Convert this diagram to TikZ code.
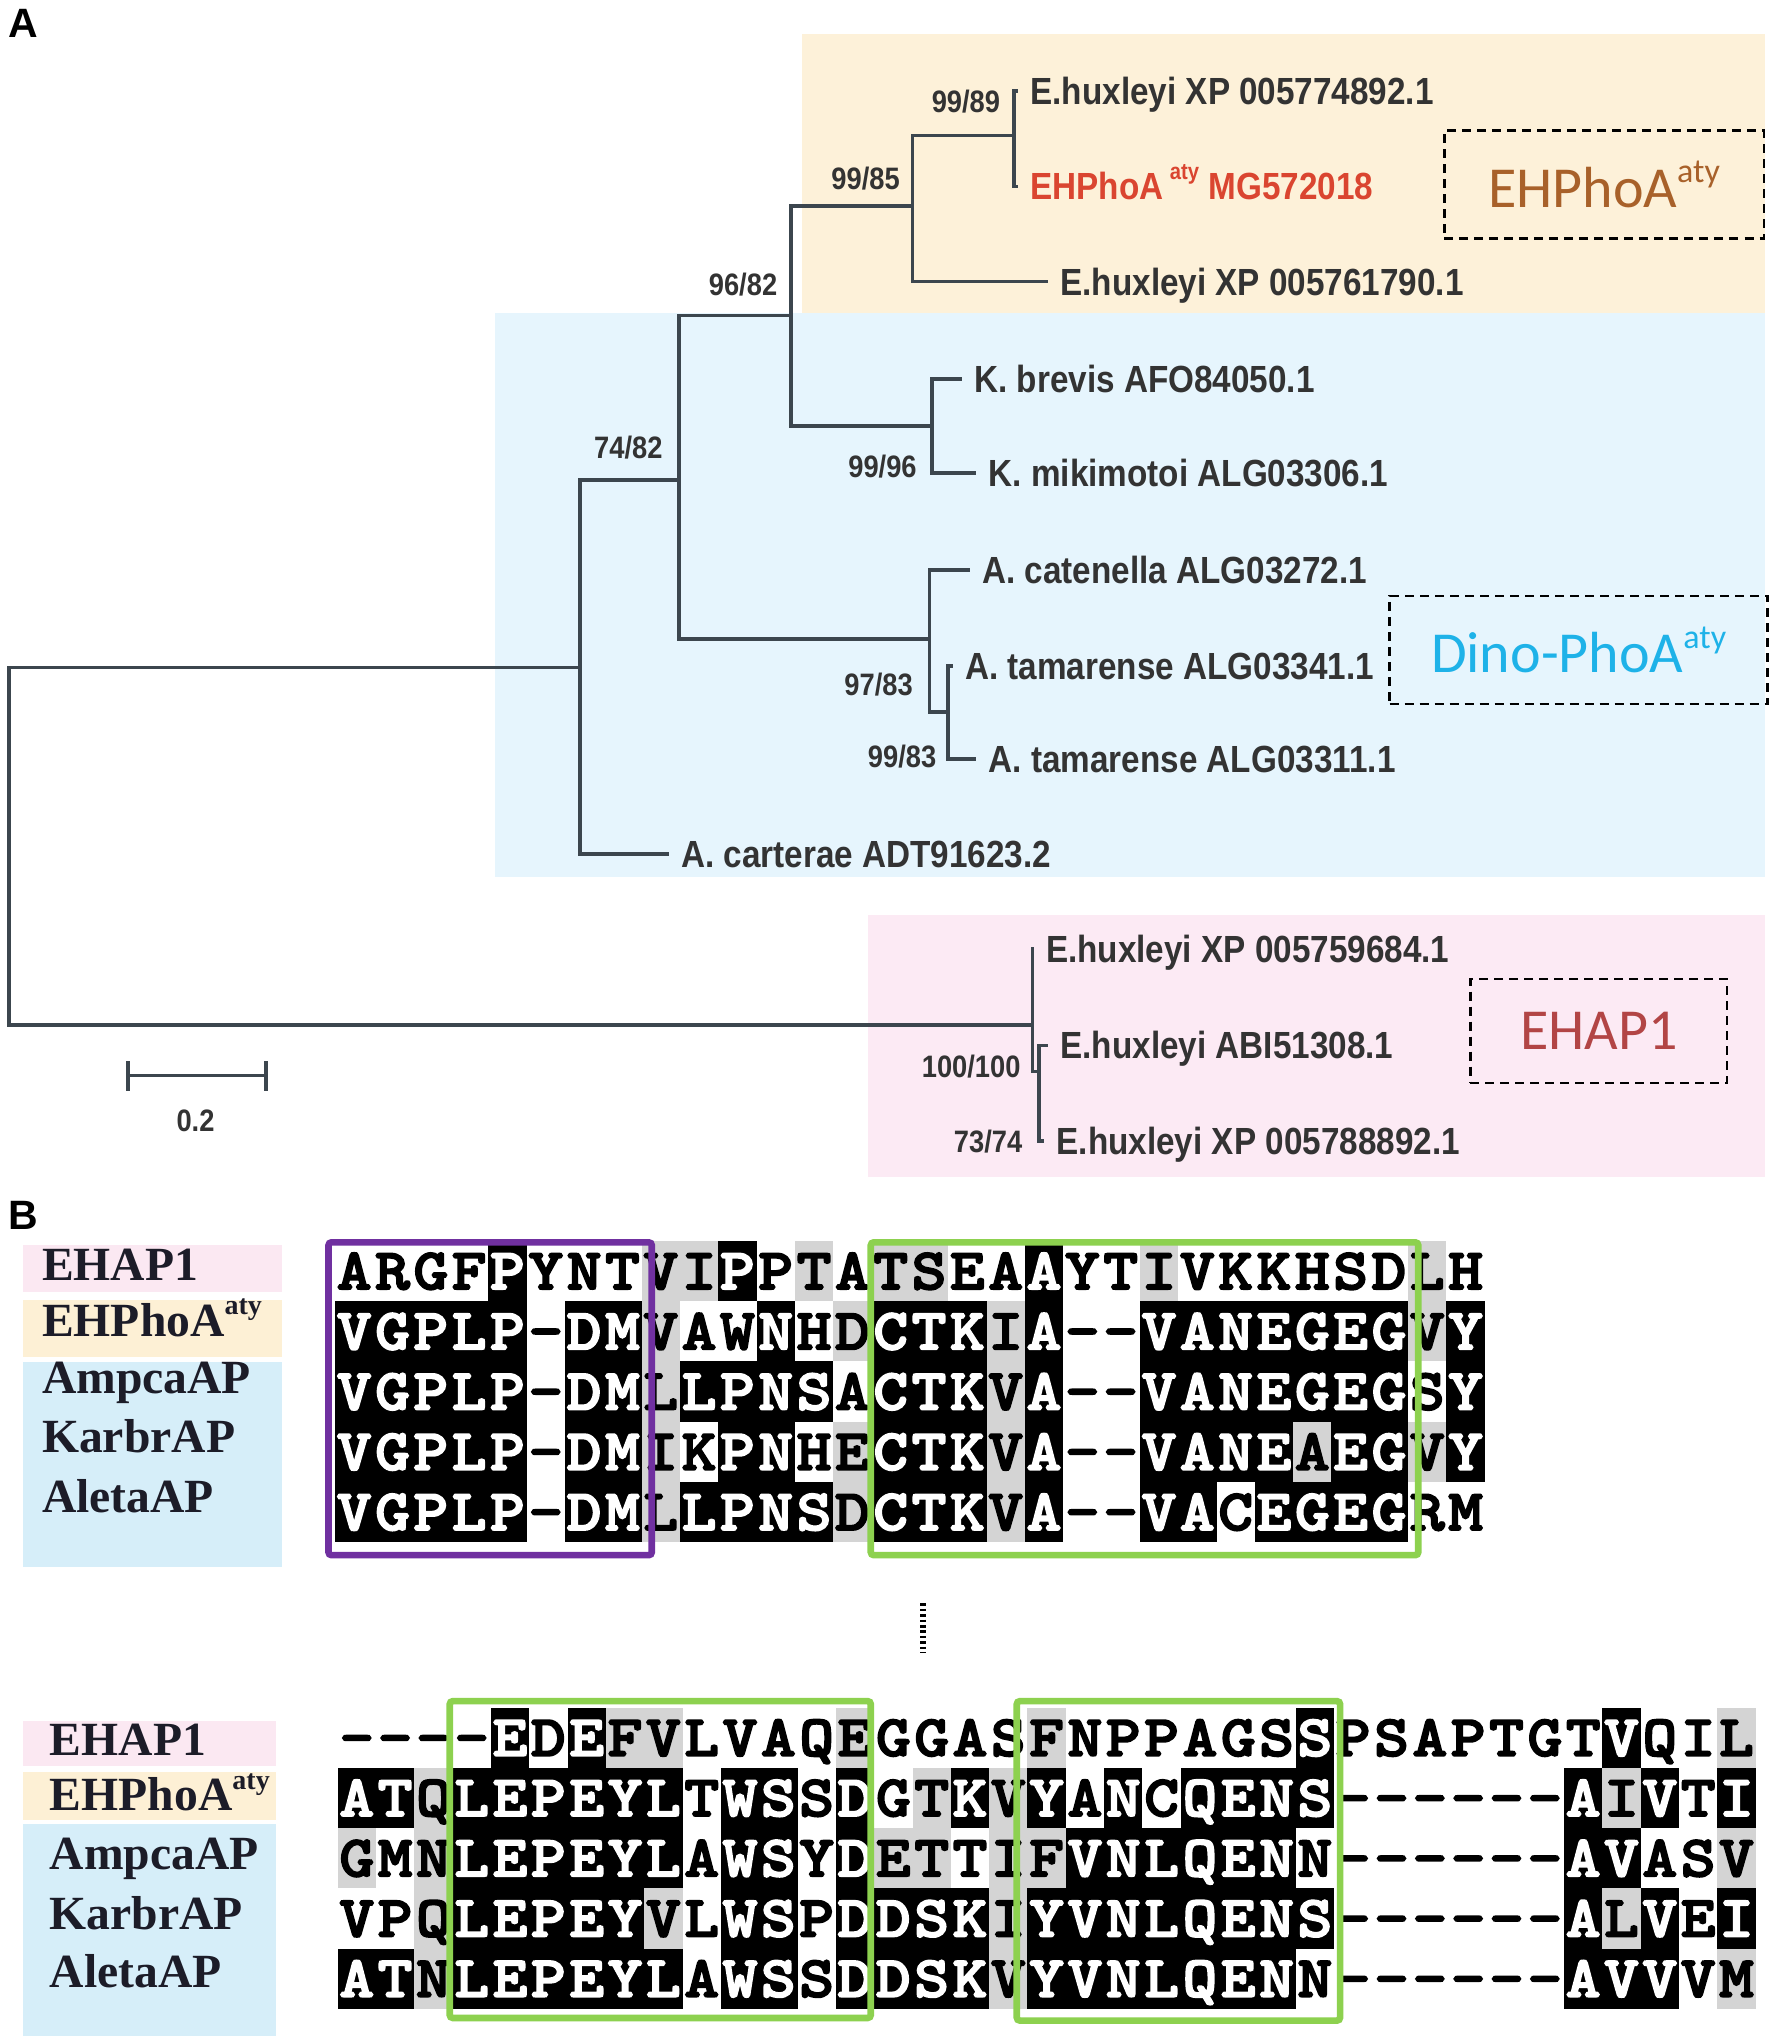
\documentclass[tikz,border=0pt]{standalone}
\usepackage{fontspec}
\setmainfont{Liberation Sans}
\newfontfamily\treefont[FakeStretch=0.88]{Liberation Sans}
\newfontfamily\boxfont{Carlito}
\newfontfamily\rowfont{Liberation Serif}
\newfontfamily\alnfont[FakeBold=4.5,FakeStretch=1.14]{lmmono10-regular.otf}
\definecolor{ybg}{HTML}{FDF1D9}
\definecolor{bbg}{HTML}{E6F5FD}
\definecolor{pbg}{HTML}{FCEAF4}
\definecolor{lpink}{HTML}{FBE8F2}
\definecolor{lyel}{HTML}{FDF0D5}
\definecolor{lblue}{HTML}{D6EEF9}
\definecolor{treec}{HTML}{3C464E}
\definecolor{labc}{HTML}{333333}
\definecolor{redl}{HTML}{DA4530}
\definecolor{brownl}{HTML}{A8612A}
\definecolor{cyanl}{HTML}{1EB2E8}
\definecolor{ehapc}{HTML}{B24545}
\definecolor{purp}{HTML}{7030A0}
\definecolor{grn}{HTML}{8DD14F}
\definecolor{alngrey}{HTML}{D4D4D4}
\definecolor{rowtext}{HTML}{1C1C28}
\def\colw{29.4}
\def\rowh{46.2}
\newcommand\alnrow[4]{%
  \foreach[count=\ci] \alC/\alS in {#4}{%
    \if\alS B\def\bgc{black}\def\fgc{white}\else\if\alS G\def\bgc{alngrey}\def\fgc{black}\else\def\bgc{none}\def\fgc{black}\fi\fi
    \path[fill=\bgc] ({#2+(\ci-1)*\colw},{#3}) rectangle ({#2+\ci*\colw},{#3+\rowh});
    \node[alnchar,text=\fgc] (#1c\ci) at ({#2+(\ci-0.5)*\colw},{#3+\rowh/2+13.5}) {\alC};
  }%
}
\tikzset{
  tree/.style={draw=treec,line width=1.9pt},
  leaf/.style={anchor=west,font=\treefont\bfseries\fontsize{18.9}{20}\selectfont,text=labc,inner xsep=6pt,inner ysep=0pt,text height=13.5pt,text depth=0pt},
  boot/.style={font=\treefont\bfseries\fontsize{15.5}{16}\selectfont,text=labc,inner sep=0pt},
  panel/.style={font=\bfseries\fontsize{20.5}{21}\selectfont,inner sep=0pt},
  dbox/.style={draw=black,dash pattern=on 4.5pt off 3pt,line width=1.2pt,font=\boxfont\fontsize{29}{30}\selectfont,inner sep=0pt},
  rowlab/.style={anchor=base west,font=\rowfont\bfseries\fontsize{23.8}{24}\selectfont,text=rowtext,inner sep=0pt},
  alnchar/.style={anchor=base,font=\alnfont\fontsize{28.5}{29}\selectfont,inner sep=0pt},
  purpbox/.style={draw=purp,line width=3.3pt,rounded corners=1.5pt},
  grnbox/.style={draw=grn,line width=3.3pt,rounded corners=1.5pt}
}
\begin{document}
\begin{tikzpicture}[x=0.6516pt,y=-0.6516pt]
\fill[white] (0,0) rectangle (1362,1568);
\useasboundingbox (0,0) rectangle (1362,1568);
% ---------- Panel A backgrounds
\fill[ybg] (615,26) rectangle (1354,240);
\fill[bbg] (380,240) rectangle (1354,673);
\fill[pbg] (666,702) rectangle (1354,903);
\node[panel] (pA) at (18,18) {A};
% ---------- leaves
\node[leaf] (l1) at (781,70) {E.huxleyi XP 005774892.1};
\node[leaf,text=redl] (l2) at (781,143) {EHPhoA\,\raisebox{0.55em}{\fontsize{11.5}{12}\selectfont aty}\ MG572018};
\node[leaf] (l3) at (804,216) {E.huxleyi XP 005761790.1};
\node[leaf] (l4) at (738,291) {K. brevis AFO84050.1};
\node[leaf] (l5) at (749,363) {K. mikimotoi ALG03306.1};
\node[leaf] (l6) at (744,437) {A. catenella ALG03272.1};
\node[leaf] (l7) at (731,511) {A. tamarense ALG03341.1};
\node[leaf] (l8) at (749,582) {A. tamarense ALG03311.1};
\node[leaf] (l9) at (513,655) {A. carterae ADT91623.2};
\node[leaf] (l10) at (793,728) {E.huxleyi XP 005759684.1};
\node[leaf] (l11) at (804,802) {E.huxleyi ABI51308.1};
\node[leaf] (l12) at (801,875) {E.huxleyi XP 005788892.1};
% ---------- internal nodes
\coordinate (R) at (7,649);
\coordinate (N1) at (445,512);
\coordinate (N2) at (521,368);
\coordinate (N3) at (607,242);
\coordinate (N4) at (700,158);
\coordinate (N5) at (778,104);
\coordinate (NK) at (715,327);
\coordinate (NA) at (713,490);
\coordinate (N6) at (727,546);
\coordinate (NE) at (792,786);
\coordinate (N7) at (797,822);
\draw[tree] (R) |- (N1);
\draw[tree] (R) |- (NE);
\draw[tree] (N1) |- (N2);
\draw[tree] (N1) |- (l9.west);
\draw[tree] (N2) |- (N3);
\draw[tree] (N2) |- (NA);
\draw[tree] (N3) |- (N4);
\draw[tree] (N3) |- (NK);
\draw[tree] (N4) |- (N5);
\draw[tree] (N4) |- (l3.west);
\draw[tree] (N5) |- (l1.west);
\draw[tree] (N5) |- (l2.west);
\draw[tree] (NK) |- (l4.west);
\draw[tree] (NK) |- (l5.west);
\draw[tree] (NA) |- (l6.west);
\draw[tree] (NA) |- (N6);
\draw[tree] (N6) |- (l7.west);
\draw[tree] (N6) |- (l8.west);
\draw[tree] (NE) |- (l10.west);
\draw[tree] (NE) |- (N7);
\draw[tree] (N7) |- (l11.west);
\draw[tree] (N7) |- (l12.west);
% ---------- bootstrap values
\node[boot] (b1) at (741,78) {99/89};
\node[boot] (b2) at (664,137) {99/85};
\node[boot] (b3) at (570,218) {96/82};
\node[boot] (b4) at (482,343) {74/82};
\node[boot] (b5) at (677,358) {99/96};
\node[boot] (b6) at (674,525) {97/83};
\node[boot] (b7) at (692,580) {99/83};
\node[boot] (b8) at (745,818) {100/100};
\node[boot] (b9) at (758,876) {73/74};
% ---------- scale bar
\coordinate (s1) at (98,825);
\coordinate (s2) at (204,825);
\coordinate (s1t) at (98,814);
\coordinate (s1b) at (98,837);
\coordinate (s2t) at (204,814);
\coordinate (s2b) at (204,837);
\draw[tree] (s1) -- (s2);
\draw[tree] (s1t) -- (s1b);
\draw[tree] (s2t) -- (s2b);
\node[boot] (sl) at (150,860) {0.2};
% ---------- group boxes
\node[dbox,text=brownl,minimum width=159.6pt,minimum height=54pt] (bxE) at (1230.5,141.5) {EHPhoA\raisebox{0.42em}{\fontsize{17}{17}\selectfont aty}};
\node[dbox,text=cyanl,minimum width=189pt,minimum height=54pt] (bxD) at (1211,498.5) {Dino-PhoA\raisebox{0.42em}{\fontsize{17}{17}\selectfont aty}};
\node[dbox,text=ehapc,minimum width=128.4pt,minimum height=52pt] (bxH) at (1226.5,791) {EHAP1};
% ---------- Panel B
\node[panel] (pB) at (18,932) {B};
\fill[lpink] (18,955) rectangle (216,991);
\fill[lyel] (18,997) rectangle (216,1041);
\fill[lblue] (18,1045) rectangle (216,1202);
\fill[lpink] (18,1320) rectangle (212,1355);
\fill[lyel] (18,1359) rectangle (212,1396);
\fill[lblue] (18,1399) rectangle (212,1562);
\node[rowlab] (ra1) at (32,982) {EHAP1};
\node[rowlab] (ra2) at (32,1025) {EHPhoA\raisebox{0.45em}{\fontsize{14}{14}\selectfont aty}};
\node[rowlab] (ra3) at (32,1069) {AmpcaAP};
\node[rowlab] (ra4) at (32,1114) {KarbrAP};
\node[rowlab] (ra5) at (32,1160) {AletaAP};
\node[rowlab] (rb1) at (38,1347) {EHAP1};
\node[rowlab] (rb2) at (38,1389) {EHPhoA\raisebox{0.45em}{\fontsize{14}{14}\selectfont aty}};
\node[rowlab] (rb3) at (38,1434) {AmpcaAP};
\node[rowlab] (rb4) at (38,1480) {KarbrAP};
\node[rowlab] (rb5) at (38,1525) {AletaAP};
% ---------- alignment block 1
\alnrow{xa}{257}{952}{A/W,R/W,G/W,F/W,P/B,Y/W,N/W,T/W,V/G,I/G,P/B,P/W,T/G,A/W,T/G,S/G,E/W,A/W,A/B,Y/W,T/W,I/G,V/W,K/W,K/W,H/W,S/W,D/W,L/G,H/W}
\alnrow{xb}{257}{998.2}{V/B,G/B,P/B,L/B,P/B,-/W,D/B,M/B,V/G,A/W,W/W,N/B,H/W,D/G,C/B,T/B,K/B,I/G,A/B,-/W,-/W,V/B,A/B,N/B,E/B,G/B,E/B,G/B,V/G,Y/B}
\alnrow{xc}{257}{1044.4}{V/B,G/B,P/B,L/B,P/B,-/W,D/B,M/B,L/G,L/B,P/B,N/B,S/B,A/W,C/B,T/B,K/B,V/G,A/B,-/W,-/W,V/B,A/B,N/B,E/B,G/B,E/B,G/B,S/W,Y/B}
\alnrow{xd}{257}{1090.6}{V/B,G/B,P/B,L/B,P/B,-/W,D/B,M/B,I/G,K/W,P/B,N/B,H/W,E/G,C/B,T/B,K/B,V/G,A/B,-/W,-/W,V/B,A/B,N/B,E/B,A/G,E/B,G/B,V/G,Y/B}
\alnrow{xe}{257}{1136.8}{V/B,G/B,P/B,L/B,P/B,-/W,D/B,M/B,L/G,L/B,P/B,N/B,S/B,D/G,C/B,T/B,K/B,V/G,A/B,-/W,-/W,V/B,A/B,C/W,E/B,G/B,E/B,G/B,R/W,M/W}
\draw[purpbox] (252,953) rectangle (500,1193);
\draw[grnbox] (668,953) rectangle (1088,1193);
% ---------- ellipsis
\coordinate (d1) at (708,1230);
\coordinate (d2) at (708,1268);
\draw[black,line width=3pt,dash pattern=on 1.3pt off 1.4pt] (d1) -- (d2);
% ---------- alignment block 2
\alnrow{ya}{259}{1310}{-/W,-/W,-/W,-/W,E/B,D/W,E/B,F/G,V/G,L/W,V/W,A/W,Q/W,E/G,G/W,G/W,A/W,S/W,F/G,N/W,P/W,P/W,A/W,G/W,S/W,S/B,P/W,S/W,A/W,P/W,T/W,G/W,T/W,V/B,Q/W,I/W,L/G}
\alnrow{yb}{259}{1356.2}{A/B,T/B,Q/G,L/B,E/B,P/B,E/B,Y/B,L/B,T/W,W/B,S/B,S/W,D/B,G/W,T/G,K/B,V/G,Y/B,A/W,N/B,C/W,Q/B,E/B,N/B,S/B,-/W,-/W,-/W,-/W,-/W,-/W,A/B,I/G,V/B,T/W,I/B}
\alnrow{yc}{259}{1402.4}{G/G,M/W,N/G,L/B,E/B,P/B,E/B,Y/B,L/B,A/W,W/B,S/B,Y/W,D/B,E/G,T/G,T/W,I/G,F/G,V/B,N/B,L/B,Q/B,E/B,N/B,N/W,-/W,-/W,-/W,-/W,-/W,-/W,A/B,V/B,A/W,S/W,V/G}
\alnrow{yd}{259}{1448.6}{V/W,P/W,Q/G,L/B,E/B,P/B,E/B,Y/B,V/G,L/W,W/B,S/B,P/W,D/B,D/B,S/B,K/B,I/G,Y/B,V/B,N/B,L/B,Q/B,E/B,N/B,S/B,-/W,-/W,-/W,-/W,-/W,-/W,A/B,L/G,V/B,E/W,I/B}
\alnrow{ye}{259}{1494.8}{A/B,T/B,N/G,L/B,E/B,P/B,E/B,Y/B,L/B,A/W,W/B,S/B,S/W,D/B,D/B,S/B,K/B,V/G,Y/B,V/B,N/B,L/B,Q/B,E/B,N/B,N/W,-/W,-/W,-/W,-/W,-/W,-/W,A/B,V/B,V/B,V/W,M/G}
\draw[grnbox] (345,1305) rectangle (668,1548);
\draw[grnbox] (780,1305) rectangle (1028,1550);
\end{tikzpicture}
\end{document}
